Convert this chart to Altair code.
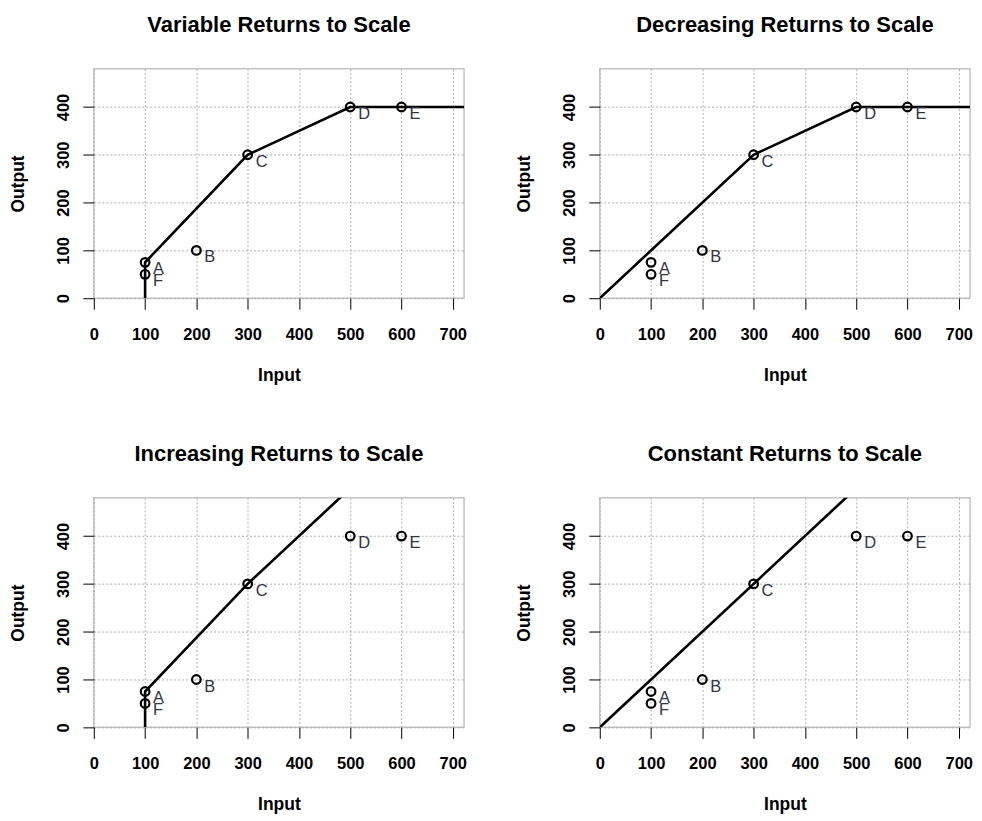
import altair as alt
import pandas as pd

# DMU data
names = ["A", "B", "C", "D", "E", "F"]
inputs = [100, 200, 300, 500, 600, 100]
outputs = [75, 100, 300, 400, 400, 50]

# Frontier lines
vrs_x = [100, 100, 300, 500, 800]
vrs_y = [0, 75, 300, 400, 400]
drs_x = [0, 300, 500, 800]
drs_y = [0, 300, 400, 400]
irs_x = [100, 100, 300, 600]
irs_y = [0, 75, 300, 600]
crs_x = [0, 600]
crs_y = [0, 600]

titles = ["Variable Returns to Scale", "Decreasing Returns to Scale",
          "Increasing Returns to Scale", "Constant Returns to Scale"]
x_ticks = [0, 100, 200, 300, 400, 500, 600, 700]
y_ticks = [0, 100, 200, 300, 400]

pts = pd.DataFrame({"name": names, "Input": inputs, "Output": outputs})

W, H = 371, 230

xscale = alt.Scale(domain=[0, 722], nice=False, zero=False)
yscale = alt.Scale(domain=[0, 480], nice=False, zero=False)
xaxis = alt.Axis(values=x_ticks, title="Input", labelFlush=False, labelOverlap=False,
                 labelPadding=17, titlePadding=24)
yaxis = alt.Axis(values=y_ticks, title="Output", labelAngle=270, labelAlign="center",
                 labelBaseline="bottom", labelPadding=11, labelFlush=False,
                 labelOverlap=False, titlePadding=28)


def panel(title, lx, ly):
    line_df = pd.DataFrame({"Input": lx, "Output": ly, "i": list(range(len(lx)))})
    line = alt.Chart(line_df).mark_line(color="black", strokeWidth=2.6, clip=True).encode(
        x=alt.X("Input:Q", scale=xscale, axis=xaxis),
        y=alt.Y("Output:Q", scale=yscale, axis=yaxis),
        order="i:Q",
    )
    points = alt.Chart(pts).mark_point(shape="circle", filled=False, color="black",
                                        size=75, strokeWidth=2.2, opacity=1).encode(
        x=alt.X("Input:Q", scale=xscale, axis=xaxis),
        y=alt.Y("Output:Q", scale=yscale, axis=yaxis),
    )
    labels = alt.Chart(pts).mark_text(align="left", baseline="alphabetic", dx=8, dy=12,
                                      fontSize=16.5, font="Liberation Sans",
                                      color="#333344").encode(
        x=alt.X("Input:Q", scale=xscale, axis=xaxis),
        y=alt.Y("Output:Q", scale=yscale, axis=yaxis),
        text="name:N",
    )
    return alt.layer(line, points, labels).properties(
        width=W, height=H,
        title=alt.TitleParams(title, font="Liberation Sans", fontSize=22,
                              fontWeight="bold", anchor="middle", frame="group",
                              baseline="alphabetic", offset=15, color="black"),
    )


chart = alt.concat(
    panel(titles[0], vrs_x, vrs_y),
    panel(titles[1], drs_x, drs_y),
    panel(titles[2], irs_x, irs_y),
    panel(titles[3], crs_x, crs_y),
    columns=2,
    spacing={"row": 200, "column": 136},
    bounds="flush",
).configure_view(
    stroke="#c4c4c4", strokeWidth=1.5
).configure_axis(
    grid=True, gridColor="#b0b0b0", gridDash=[2, 2], gridWidth=1,
    domain=False, tickColor="black", tickSize=11, tickWidth=1,
    labelFont="Liberation Sans", labelFontWeight="bold", labelFontSize=16.5, labelColor="black",
    titleFont="Liberation Sans", titleFontWeight="bold", titleFontSize=17.5, titleColor="black",
).properties(
    background="white",
    padding={"left": 1, "top": 4, "right": 0, "bottom": 0},
)

chart.save("out.html", embed_options={"renderer": "svg", "actions": False})
